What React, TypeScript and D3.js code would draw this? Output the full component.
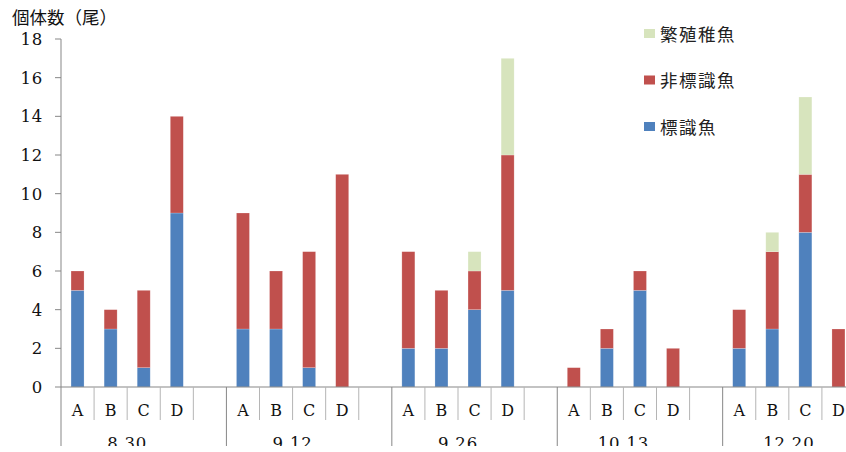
import React from "react";
import * as d3 from "d3";

const dates = ["8.30", "9.12", "9.26", "10.13", "12.20"];
const sites = ["A", "B", "C", "D"];
const seriesNames = ["標識魚", "非標識魚", "繁殖稚魚"];
const seriesColors = ["#4F81BD", "#C0504D", "#D7E4BD"];

// Per date, per site (A–D)
const tagged = [
  [5, 3, 1, 9],
  [3, 3, 1, 0],
  [2, 2, 4, 5],
  [0, 2, 5, 0],
  [2, 3, 8, 0],
];
const untagged = [
  [1, 1, 4, 5],
  [6, 3, 6, 11],
  [5, 3, 2, 7],
  [1, 1, 1, 2],
  [2, 4, 3, 3],
];
const juvenile = [
  [0, 0, 0, 0],
  [0, 0, 0, 0],
  [0, 0, 1, 5],
  [0, 0, 0, 0],
  [0, 1, 4, 0],
];
const yTicks = [0, 2, 4, 6, 8, 10, 12, 14, 16, 18];

const W = 846;
const H = 452;
const left = 61;
const right = 855;
const baseY = 387;
const topY = 39;

export default function App() {
  // one slot per site, plus an empty spacer slot between dates
  const slots: string[] = [];
  dates.forEach((d, gi) => {
    sites.forEach((s) => slots.push(`${d}-${s}`));
    if (gi < dates.length - 1) slots.push(`${d}-gap`);
  });
  const x = d3.scaleBand<string>().domain(slots).range([left, right]).padding(0);
  const y = d3.scaleLinear().domain([0, 18]).range([baseY, topY]);
  const barW = 13;

  const rows = dates.flatMap((d, gi) =>
    sites.map((s, si) => ({
      key: `${d}-${s}`,
      tagged: tagged[gi][si],
      untagged: untagged[gi][si],
      juvenile: juvenile[gi][si],
    }))
  );
  const stack = d3.stack<any>().keys(["tagged", "untagged", "juvenile"])(rows);

  const serif = "'DejaVu Serif', 'Liberation Serif', serif";
  const cjk = "'Noto Sans CJK JP', 'Noto Sans CJK SC', sans-serif";
  const axisColor = "#878787";
  const sepColor = "#B5B5B5";

  return (
    <svg width={W} height={H} style={{ position: "absolute", left: 0, top: 0, background: "#fff" }}>
      <defs>
        <clipPath id="frame">
          <rect x={0} y={0} width={W} height={446} />
        </clipPath>
      </defs>
      <g clipPath="url(#frame)">
        <text x={12} y={24} fontFamily={cjk} fontSize={17.5} fill="#111">
          個体数（尾）
        </text>

        {/* y axis */}
        <line x1={left} x2={left} y1={topY} y2={baseY} stroke={axisColor} />
        {yTicks.map((t) => (
          <g key={t}>
            <line x1={left - 6} x2={left} y1={y(t)} y2={y(t)} stroke={axisColor} />
            <text
              x={43}
              y={y(t)}
              dy="0.36em"
              textAnchor="end"
              fontFamily={serif}
              fontSize={16.5}
              letterSpacing={0.8}
              fill="#111"
            >
              {t}
            </text>
          </g>
        ))}

        {/* bars */}
        {stack.map((layer, li) => (
          <g key={li} fill={seriesColors[li]}>
            {layer.map((seg, i) => {
              const h = y(seg[0]) - y(seg[1]);
              if (h <= 0) return null;
              const cx = (x(rows[i].key) as number) + x.bandwidth() / 2;
              return (
                <rect
                  key={i}
                  x={cx - barW / 2}
                  y={y(seg[1])}
                  width={barW}
                  height={h}
                  stroke="#ffffff"
                  strokeOpacity={0.35}
                  strokeWidth={0.6}
                />
              );
            })}
          </g>
        ))}

        {/* category axis */}
        <line x1={left} x2={right} y1={baseY} y2={baseY} stroke={axisColor} />
        {slots.map((s, i) => {
          const x0 = x(s) as number;
          const isGroupStart = i % 5 === 0;
          return (
            <line
              key={s}
              x1={x0}
              x2={x0}
              y1={baseY}
              y2={isGroupStart ? 446 : 420}
              stroke={isGroupStart ? axisColor : sepColor}
            />
          );
        })}
        <line x1={right} x2={right} y1={baseY} y2={446} stroke={axisColor} />
        {rows.map((r) => {
          const site = r.key.split("-")[1];
          return (
            <text
              key={r.key}
              x={(x(r.key) as number) + x.bandwidth() / 2}
              y={416}
              textAnchor="middle"
              fontFamily={serif}
              fontSize={16}
              fill="#111"
            >
              {site}
            </text>
          );
        })}
        {dates.map((d) => {
          const a = x(`${d}-A`) as number;
          const b = (x(`${d}-D`) as number) + x.bandwidth();
          return (
            <text
              key={d}
              x={(a + b) / 2}
              y={449}
              textAnchor="middle"
              fontFamily={serif}
              fontSize={16.5}
              letterSpacing={0.8}
              fill="#111"
            >
              {d}
            </text>
          );
        })}

        {/* legend */}
        {[2, 1, 0].map((si, k) => (
          <g key={si} transform={`translate(644, ${29 + k * 46.5})`}>
            <rect x={0} y={0} width={11} height={9} fill={seriesColors[si]} />
            <text x={16} y={5} dy="0.38em" fontFamily={cjk} fontSize={17.5} fill="#222" letterSpacing={1.5}>
              {seriesNames[si]}
            </text>
          </g>
        ))}
      </g>
    </svg>
  );
}
